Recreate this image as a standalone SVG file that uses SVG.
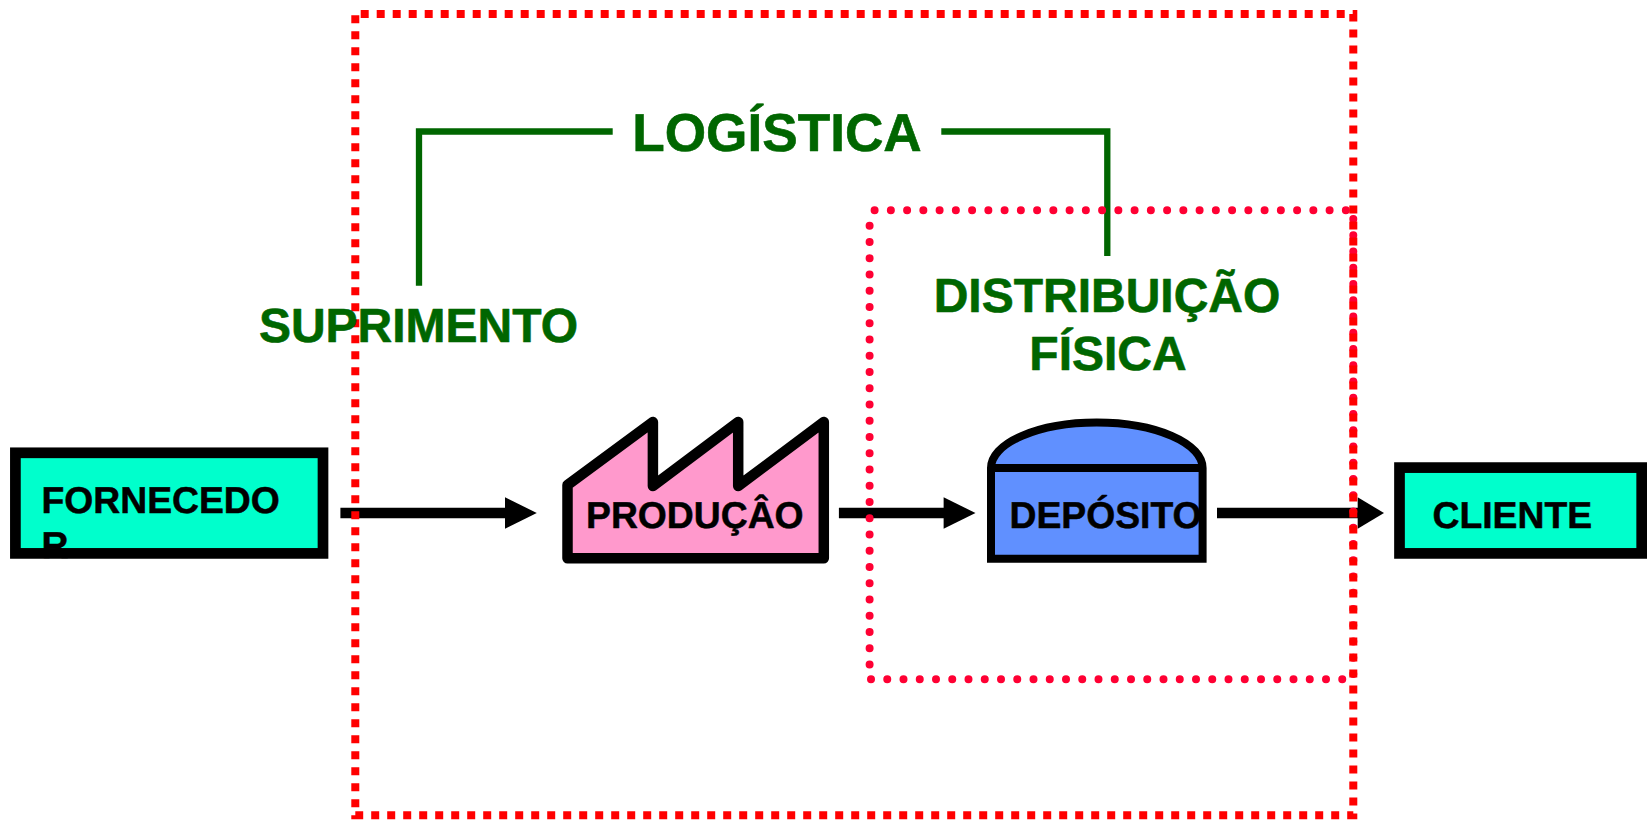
<svg xmlns="http://www.w3.org/2000/svg" width="1647" height="820" viewBox="0 0 1647 820">
<style>
text{font-family:"Liberation Sans",Arial,sans-serif;font-weight:700;text-rendering:geometricPrecision;stroke-linejoin:round}
.lbl{font-size:37.3px;fill:#000;stroke:#000;stroke-width:.5}
.grn{font-size:48px;fill:#006600;stroke:#006600;stroke-width:.6;text-anchor:middle}
.box{fill:#00FFCC;stroke:#000;stroke-width:10.7}
.brk{fill:none;stroke:#006600;stroke-width:6.3}
.shaft{fill:none;stroke:#000;stroke-width:10.7}
.head{fill:#000}
</style>
<rect width="1647" height="820" fill="#fff"/>
<g id="fornecedor"><rect class="box" x="15.4" y="452.8" width="307.6" height="100.6"/><text class="lbl" x="41.5" y="513">FORNECEDO</text><text class="lbl" x="41.5" y="558">R</text></g>
<g id="producao"><path d="M567.5 485L652.9 422V486L738.2 422V486L823.8 422V558.3H567.5Z" fill="#FF99CC" stroke="#000" stroke-width="10.5" stroke-linejoin="round"/><text class="lbl" x="586" y="528">PRODUÇÂO</text></g>
<g id="deposito"><path d="M991 468A105.8 45.5 0 0 1 1202.6 468V558.7H991Z" fill="#6090FF" stroke="#000" stroke-width="8"/><path d="M991 468H1202.6" fill="none" stroke="#000" stroke-width="8"/><text class="lbl" x="1009.5" y="528">DEPÓSITO</text></g>
<g id="cliente"><rect class="box" x="1399.5" y="467.6" width="242.2" height="85.8"/><text class="lbl" x="1432.5" y="528">CLIENTE</text></g>
<g id="connectors">
<path class="shaft" d="M340.4 513H506"/><path class="head" d="M505 497.3L536.8 513L505 528.7Z"/>
<path class="shaft" d="M838.9 513H944"/><path class="head" d="M943.6 497.3L975.5 513L943.6 528.7Z"/>
<path class="shaft" d="M1217 513H1358"/><path class="head" d="M1357.7 497.3L1384 513L1357.7 528.7Z"/>
<path class="brk" d="M612.7 131.5H419V285.7"/>
<path class="brk" d="M941.3 131.5H1107.3V256"/>
</g>
<g id="distribuicao-boundary"><path d="M874.6 210.3H1353.3V679.3H869.6V210.3" fill="none" stroke="#FF0033" stroke-width="8" stroke-linecap="round" stroke-dasharray="0 16.25"/></g>
<g id="logistica-boundary"><path d="M360.7 14H1353.3V815.3H355.3V14" fill="none" stroke="#FF0000" stroke-width="8" stroke-dasharray="8 8"/></g>
<g id="logistica"><text x="777" y="151" font-size="53.2" fill="#006600" stroke="#006600" stroke-width=".6" text-anchor="middle">LOGÍSTICA</text></g>
<g id="suprimento"><text class="grn" x="418.5" y="341.5">SUPRIMENTO</text></g>
<g id="distribuicao"><text class="grn" x="1107" y="311.5">DISTRIBUIÇÃO</text><text class="grn" x="1108" y="370">FÍSICA</text></g>
</svg>
